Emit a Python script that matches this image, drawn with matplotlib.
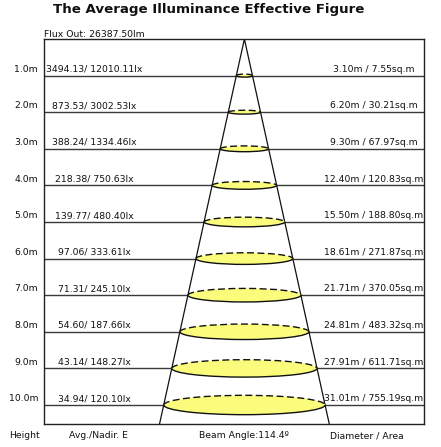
import numpy as np
import matplotlib
matplotlib.use('Agg')
import matplotlib.pyplot as plt
from matplotlib.patches import Ellipse, Arc

# mounting heights (m)
heights = [1.0, 2.0, 3.0, 4.0, 5.0, 6.0, 7.0, 8.0, 9.0, 10.0]
avg_lux = ['3494.13', '873.53', '388.24', '218.38', '139.77', '97.06', '71.31', '54.60', '43.14', '34.94']
nadir_lux = ['12010.11', '3002.53', '1334.46', '750.63', '480.40', '333.61', '245.10', '187.66', '148.27', '120.10']
diameters = [3.10, 6.20, 9.30, 12.40, 15.50, 18.61, 21.71, 24.81, 27.91, 31.01]
areas = [7.55, 30.21, 67.97, 120.83, 188.80, 271.87, 370.05, 483.32, 611.71, 755.19]
beam_angle = 114.4
flux_out = 26387.50

W, H = 441, 447
fig = plt.figure(figsize=(W / 100, H / 100), dpi=100)
fig.patch.set_facecolor('white')

# box in pixels
bx0, bx1, by0, by1 = 44, 424, 39, 424
ax = fig.add_axes([bx0 / W, 1 - by1 / H, (bx1 - bx0) / W, (by1 - by0) / H])

px_x = 5.2     # pixels per metre horizontally
px_y = 36.6    # pixels per metre vertically
apex_x = 244.4
ax.set_xlim((bx0 - apex_x) / px_x, (bx1 - apex_x) / px_x)
ax.set_ylim((by1 - by0) / px_y, 0)
ax.set_xticks([])
ax.set_yticks([])
for s in ax.spines.values():
    s.set_color('#222222')
    s.set_linewidth(1.0)

xmin, xmax = ax.get_xlim()
depth_max = ax.get_ylim()[0]

# horizontal height lines
ax.hlines(heights, xmin, xmax, color='#3a3a3a', lw=1.0, zorder=1)

# beam cone
half = depth_max * np.tan(np.radians(beam_angle / 2))
ax.plot([-half, 0, half], [depth_max, 0, depth_max], color='#111111', lw=0.9, zorder=2)

# light spots
ell_ratio = 0.12 * px_x / px_y
for h, d in zip(heights, diameters):
    eh = max(d * ell_ratio, 0.08)
    ax.add_patch(Ellipse((0, h), d, eh, facecolor='#fbfb7c', edgecolor='none', zorder=3))
    ax.add_patch(Arc((0, h), d, eh, theta1=180, theta2=360, color='#111111',
                     lw=1.0, linestyle=(0, (5, 2.5)), zorder=4))
    ax.add_patch(Arc((0, h), d, eh, theta1=0, theta2=180, color='#111111',
                     lw=1.0, zorder=4))

fs = 6.7
lab_x = (38 - apex_x) / px_x
lux_x = (94 - apex_x) / px_x
dia_x = (374 - apex_x) / px_x
for h, a, n, d, ar in zip(heights, avg_lux, nadir_lux, diameters, areas):
    ax.text(lab_x, h - 0.05, f'{h:.1f}m', ha='right', va='bottom', fontsize=fs,
            color='#111111', clip_on=False)
    ax.text(lux_x, h - 0.05, f'{a}/ {n}lx', ha='center', va='bottom', fontsize=fs,
            color='#111111', zorder=5)
    ax.text(dia_x, h - 0.05, f'{d:.2f}m / {ar:.2f}sq.m', ha='center', va='bottom',
            fontsize=fs, color='#111111', zorder=5)

fig.text(209 / W, 1 - 10 / H, 'The Average Illuminance Effective Figure', ha='center',
         va='center', fontsize=9.6, fontweight='bold', color='#111111')
fig.text(bx0 / W, 1 - 37 / H, f'Flux Out: {flux_out:.2f}lm', ha='left', va='baseline',
         fontsize=fs, color='#111111')

by = 1 - 436 / H
fig.text(24 / W, by, 'Height', ha='center', va='center', fontsize=fs, color='#111111')
fig.text(98 / W, by, 'Avg./Nadir. E', ha='center', va='center', fontsize=fs, color='#111111')
fig.text(244 / W, by, f'Beam Angle:{beam_angle}º', ha='center', va='center', fontsize=fs,
         color='#111111')
fig.text(367 / W, by, 'Diameter / Area', ha='center', va='center', fontsize=fs, color='#111111')

fig.savefig('out.png', dpi=100, facecolor='white')
